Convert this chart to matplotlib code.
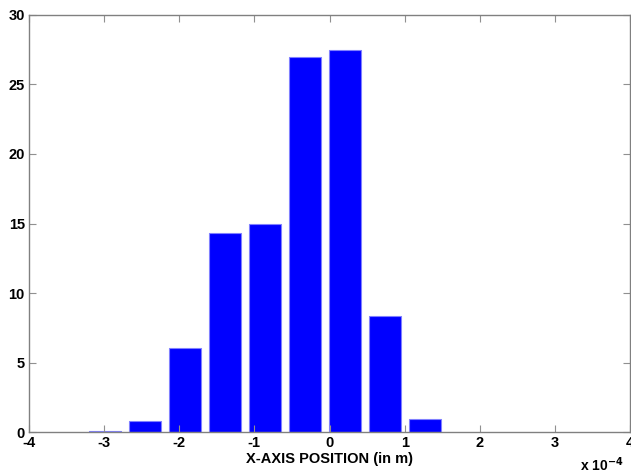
import matplotlib as mpl, numpy as np
import matplotlib.pyplot as plt

plt.rc('font', family='Liberation Sans', weight='bold', size=10)
mpl.rcParams['axes.unicode_minus'] = False

# Bin centres (x 1e-4 m) and bar heights
centers = [-2.987, -2.455, -1.923, -1.391, -0.859, -0.327, 0.205, 0.737, 1.269]
heights = [0.08, 0.82, 6.03, 14.35, 14.93, 26.93, 27.45, 8.35, 0.96]
bin_width = 0.532
xticks = [-4, -3, -2, -1, 0, 1, 2, 3, 4]
yticks = [0, 5, 10, 15, 20, 25, 30]

fig = plt.figure(figsize=(6.31, 4.75), dpi=100)
ax = fig.add_axes([29/631, 1 - 432.3/475, 601/631, (432.3 - 14.7)/475])

ax.bar(centers, heights, width=0.8*bin_width, color='#0000ff',
       edgecolor='#8080ff', linewidth=0.8)

ax.set_xlim(-4, 4)
ax.set_ylim(0, 30)
ax.set_xticks(xticks)
ax.set_yticks(yticks)
ax.tick_params(direction='in', length=5, width=0.8, color='#909090',
               top=True, right=True, labelsize=10.5, pad=3)
for lbl in ax.get_xticklabels() + ax.get_yticklabels():
    lbl.set_fontweight('bold')
for s in ax.spines.values():
    s.set_color('#808080')
    s.set_linewidth(1.0)

ax.set_xlabel('X-AXIS POSITION (in m)', fontsize=10.5, fontweight='bold', labelpad=1)
ax.text(0.99, -0.078, r'x 10$^{\mathbf{-4}}$', transform=ax.transAxes,
        ha='right', va='center', fontsize=10, fontweight='bold')

fig.savefig('out.png', dpi=100)
